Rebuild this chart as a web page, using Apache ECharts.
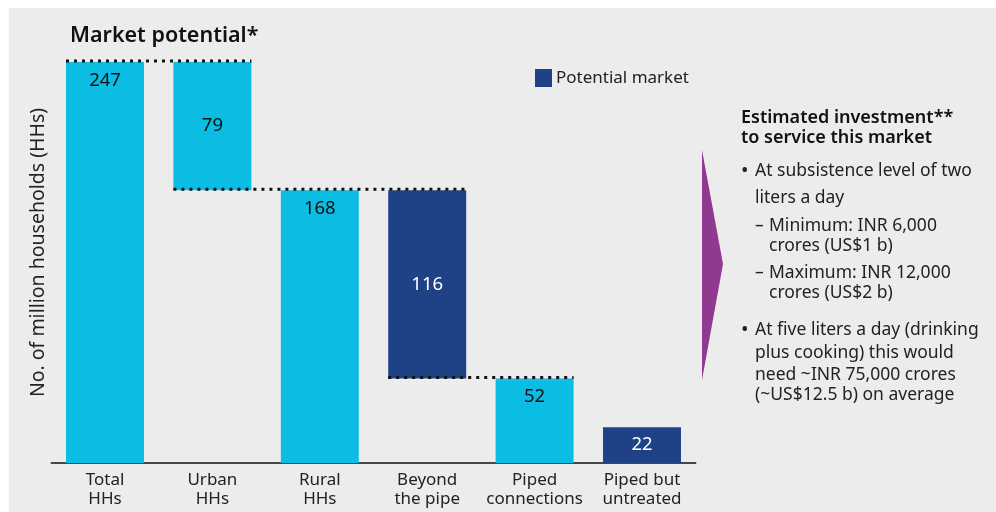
<!DOCTYPE html>
<html>
<head>
<meta charset="utf-8">
<script src="https://cdn.jsdelivr.net/npm/echarts@6/dist/echarts.min.js"></script>
<style>
  html, body { margin: 0; padding: 0; background: #ffffff; }
  #chart { width: 996px; height: 512px; }
</style>
</head>
<body>
<div id="chart"></div>
<script>
// Waterfall of Indian households: total, split, and the part left untreated
const categories = ['Total\nHHs', 'Urban\nHHs', 'Rural\nHHs', 'Beyond\nthe pipe', 'Piped\nconnections', 'Piped but\nuntreated'];
const households = [247, 79, 168, '-', 52, '-'];        // light blue steps
const potentialMarket = ['-', '-', '-', 116, '-', 22];   // dark blue steps
const floating = [0, 168, 0, 52, 0, 0];                  // invisible base under each step
// dotted connectors: [from category, to category, level]
const connectors = [[0, 1, 247], [1, 3, 168], [3, 4, 52]];
// label placement per category
const labelPos = ['insideTop', 'inside', 'insideTop', 'inside', 'insideTop', 'inside'];

const investmentTitle = ['Estimated investment**', 'to service this market'];
const investmentLines = [
  { t: '•', x: 0, y: 171, b: true }, { t: 'At subsistence level of two', x: 14, y: 171 },
  { t: 'liters a day', x: 14, y: 198 },
  { t: '–', x: 14, y: 226 }, { t: 'Minimum: INR 6,000', x: 28, y: 226 },
  { t: 'crores (US$1 b)', x: 28, y: 246 },
  { t: '–', x: 14, y: 273 }, { t: 'Maximum: INR 12,000', x: 28, y: 273 },
  { t: 'crores (US$2 b)', x: 28, y: 293 },
  { t: '•', x: 0, y: 330, b: true }, { t: 'At five liters a day (drinking', x: 14, y: 330 },
  { t: 'plus cooking) this would', x: 14, y: 353 },
  { t: 'need ~INR 75,000 crores', x: 14, y: 375 },
  { t: '(~US$12.5 b) on average', x: 14, y: 395 }
];

const CYAN = '#0bbde3';
const NAVY = '#1f4287';
const FONT = '"Noto Sans", "Open Sans", sans-serif';
const BAR_RATIO = 0.726;

const chart = echarts.init(document.getElementById('chart'), null, { renderer: 'canvas' });

function stepData(values, textColor) {
  return values.map((v, i) => v === '-' ? '-' : {
    value: v,
    label: { position: labelPos[i], color: textColor, distance: 9 }
  });
}

const panelX = 741;
const graphics = [
  { type: 'rect', z: -10, shape: { x: 9, y: 8, width: 987, height: 504 }, style: { fill: '#ececec' } },
  { type: 'text', x: 70, y: 36, style: { text: 'Market potential*', font: '600 21.5px ' + FONT, fill: '#111', verticalAlign: 'middle' } },
  { type: 'polygon', shape: { points: [[702, 150], [723, 264], [702, 380]] }, style: { fill: '#8f3a8f' } },
  { type: 'text', x: panelX, y: 118, style: { text: investmentTitle[0], font: '600 18px ' + FONT, fill: '#111', verticalAlign: 'middle' } },
  { type: 'text', x: panelX, y: 138, style: { text: investmentTitle[1], font: '600 18px ' + FONT, fill: '#111', verticalAlign: 'middle' } }
].concat(investmentLines.map(l => ({
  type: 'text', x: panelX + l.x, y: l.y,
  style: { text: l.t, font: (l.b ? '20px ' : '17.5px ') + FONT, fill: '#222', verticalAlign: 'middle' }
})));

chart.setOption({
  backgroundColor: '#ffffff',
  animation: false,
  textStyle: { fontFamily: FONT },
  grid: { left: 51.3, right: 300.3, top: 62, bottom: 49 },
  legend: {
    data: ['Potential market'],
    left: 535, top: 69, padding: 0,
    icon: 'rect', itemWidth: 17, itemHeight: 18,
    textStyle: { fontSize: 17, color: '#222', padding: [3, 0, 0, -1] }
  },
  xAxis: {
    type: 'category',
    data: categories,
    axisLine: { lineStyle: { color: '#111', width: 1.5 } },
    axisTick: { show: false },
    axisLabel: { fontSize: 17, color: '#222', lineHeight: 19.5, margin: 7, interval: 0 }
  },
  yAxis: {
    type: 'value', min: 0, max: 247,
    axisLine: { show: false }, axisTick: { show: false },
    axisLabel: { show: false }, splitLine: { show: false },
    name: 'No. of million households (HHs)',
    nameLocation: 'middle', nameRotate: 90, nameGap: 3,
    nameTextStyle: { fontSize: 19.5, color: '#222', padding: [0, 0, 0, 20] }
  },
  graphic: graphics,
  series: [
    {
      name: 'base', type: 'bar', stack: 'w', barWidth: (BAR_RATIO * 100) + '%',
      itemStyle: { color: 'transparent' }, data: floating, silent: true
    },
    {
      name: 'Households', type: 'bar', stack: 'w',
      itemStyle: { color: CYAN },
      label: { show: true, fontSize: 18.5, color: '#111' },
      data: stepData(households, '#111')
    },
    {
      name: 'Potential market', type: 'bar', stack: 'w',
      itemStyle: { color: NAVY },
      label: { show: true, fontSize: 18.5, color: '#fff' },
      data: stepData(potentialMarket, '#fff')
    },
    {
      name: 'connectors', type: 'custom', z: 10, silent: true,
      data: connectors,
      renderItem: function (params, api) {
        const from = api.value(0), to = api.value(1), lvl = api.value(2);
        const half = api.size([1, 0])[0] * BAR_RATIO / 2;
        const p1 = api.coord([from, lvl]);
        const p2 = api.coord([to, lvl]);
        return {
          type: 'line',
          shape: { x1: p1[0] - half, y1: p1[1] - 1, x2: p2[0] + half, y2: p2[1] - 1 },
          style: { stroke: '#111', lineWidth: 3, lineDash: [3, 5] }
        };
      }
    }
  ]
});
</script>
</body>
</html>
